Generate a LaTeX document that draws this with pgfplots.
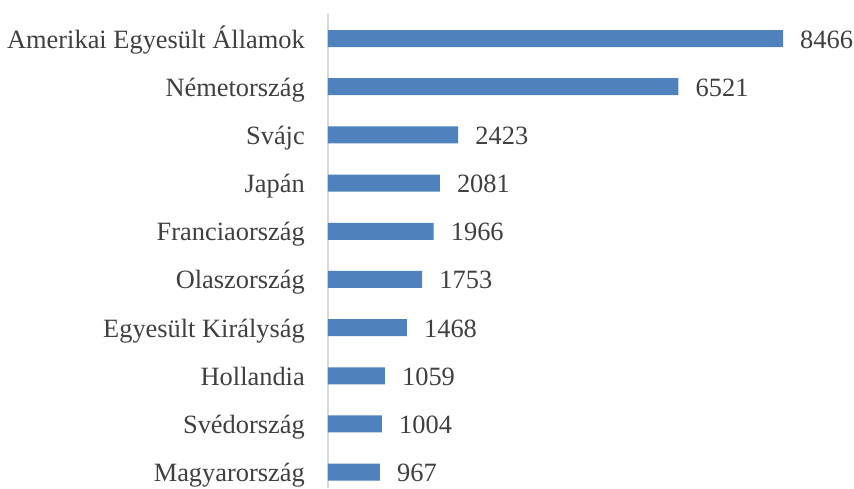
\documentclass[border=0pt]{standalone}
\usepackage{fontspec}
\setmainfont{Liberation Serif}
\usepackage{pgfplots}
\usepackage{pgfplotstable}
\pgfplotsset{compat=1.18}
\definecolor{barblue}{HTML}{4F81BD}
\definecolor{txt}{HTML}{404040}
\definecolor{axgray}{HTML}{D9D9D9}
\pgfplotstableread{
pos value label
0 8466 8466
1 6521 6521
2 2423 2423
3 2081 2081
4 1966 1966
5 1753 1753
6 1468 1468
7 1059 1059
8 1004 1004
9 967 967
}\data
\begin{document}
\begin{tikzpicture}
\path[use as bounding box] (-328pt,0pt) rectangle (526pt,488pt);
\begin{axis}[
  at={(0pt,0pt)}, anchor=south west,
  scale only axis, width=483.75pt, height=474pt,
  xbar, bar width=17pt,
  xmin=0, xmax=9000,
  ymin=-0.51, ymax=9.33, y dir=reverse,
  axis x line=none,
  axis y line=left,
  y axis line style={-, draw=axgray, line width=2pt},
  ytick={0,...,9},
  yticklabels={Amerikai Egyesült Államok, Németország, Svájc, Japán, Franciaország, Olaszország, Egyesült Királyság, Hollandia, Svédország, Magyarország},
  major tick length=0pt,
  ytick style={draw=none},
  yticklabel style={anchor=base east, inner sep=0pt, xshift=-23pt, yshift=-9.5pt, text=txt, font=\fontsize{26.4}{30}\selectfont},
  point meta=explicit symbolic,
  nodes near coords,
  every node near coord/.style={anchor=base west, inner sep=0pt, xshift=17pt, yshift=-9.5pt, text=txt, font=\fontsize{26.4}{30}\selectfont},
  clip=false,
]
\addplot[fill=barblue, draw=none] table[x=value, y=pos, meta=label] {\data};
\end{axis}
\end{tikzpicture}
\end{document}
